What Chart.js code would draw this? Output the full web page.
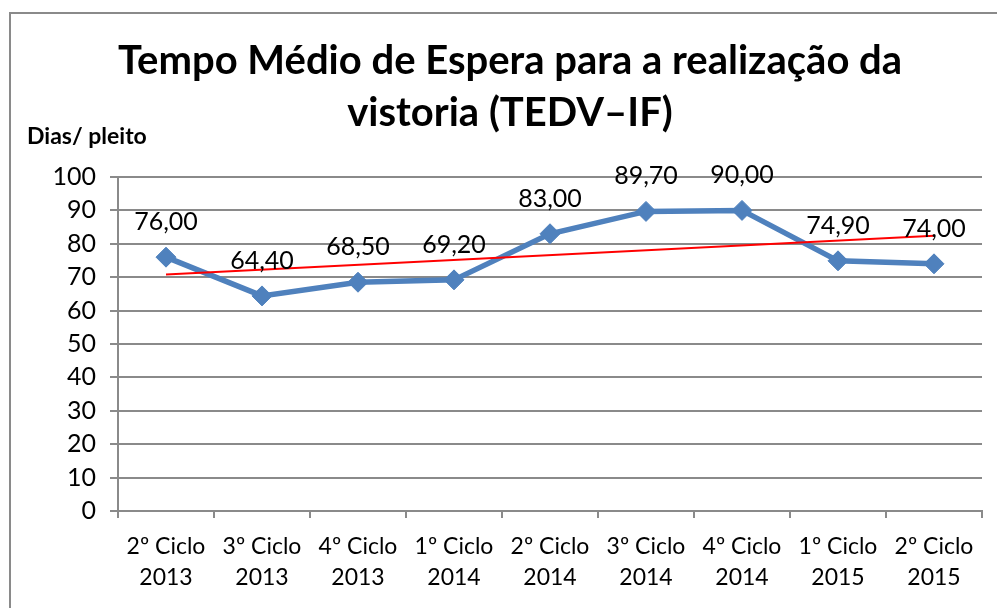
<!DOCTYPE html>
<html><head><meta charset="utf-8">
<script src="https://cdn.jsdelivr.net/npm/chart.js@4"></script>
<style>
html,body{margin:0;padding:0;background:#fff;}
#wrap{position:relative;width:997px;height:608px;overflow:hidden;background:#fff;}
#frame{position:absolute;left:9px;top:12px;width:1100px;height:700px;border:2px solid #8a8a8a;box-sizing:border-box;}
canvas{position:absolute;left:0;top:0;}
</style></head><body>
<div id="wrap"><div id="frame"></div><canvas id="c" width="997" height="608"></canvas></div>
<script>
const titleLines = ["Tempo Médio de Espera para a realização da", "vistoria (TEDV\u2013IF)"];
const yAxisTitle = "Dias/ pleito";
const categories = [
  ["2º Ciclo", "2013"], ["3º Ciclo", "2013"], ["4º Ciclo", "2013"],
  ["1º Ciclo", "2014"], ["2º Ciclo", "2014"], ["3º Ciclo", "2014"],
  ["4º Ciclo", "2014"], ["1º Ciclo", "2015"], ["2º Ciclo", "2015"]
];
const values = [76.00, 64.40, 68.50, 69.20, 83.00, 89.70, 90.00, 74.90, 74.00];
const trendValues = [70.8, null, null, null, null, null, null, null, 82.4];
const yMin = 0, yMax = 100, yStep = 10;

const FONT = "Lato, 'Liberation Sans', sans-serif";

const textPlugin = {
  id: 'texts',
  afterDraw(chart) {
    const ctx = chart.ctx;
    ctx.save();
    ctx.fillStyle = '#000';
    ctx.textAlign = 'center';
    ctx.textBaseline = 'alphabetic';
    ctx.font = "bold 40px " + FONT;
    ctx.fillText(titleLines[0], 510, 74);
    ctx.fillText(titleLines[1], 510, 126);
    ctx.textAlign = 'left';
    ctx.font = "bold 23px " + FONT;
    ctx.fillText(yAxisTitle, 27, 144);
    ctx.textAlign = 'center';
    ctx.font = "25px " + FONT;
    const meta = chart.getDatasetMeta(1);
    meta.data.forEach((pt, i) => {
      const txt = values[i].toFixed(2).replace('.', ',');
      ctx.fillText(txt, pt.x, pt.y - 27);
    });
    ctx.restore();
  }
};

new Chart(document.getElementById('c'), {
  type: 'line',
  data: {
    labels: categories,
    datasets: [
      {
        label: 'Tendência',
        data: trendValues,
        spanGaps: true,
        borderColor: '#FF0000',
        borderWidth: 2,
        pointRadius: 0,
        fill: false,
        tension: 0,
        order: 0
      },
      {
        label: 'TEDV-IF',
        data: values,
        borderColor: '#4F81BD',
        backgroundColor: '#4F81BD',
        borderWidth: 5.5,
        pointStyle: 'rectRot',
        pointRadius: 10,
        pointBorderWidth: 1,
        pointBackgroundColor: '#4F81BD',
        pointBorderColor: '#4F81BD',
        fill: false,
        tension: 0,
        order: 1
      }
    ]
  },
  options: {
    responsive: false,
    animation: false,
    devicePixelRatio: 1,
    layout: { padding: { top: 177, left: 0, right: 15, bottom: 0 } },
    plugins: { legend: { display: false }, tooltip: { enabled: false }, title: { display: false } },
    scales: {
      x: {
        type: 'category',
        offset: true,
        grid: { display: true, drawOnChartArea: false, drawTicks: true, tickLength: 7, color: '#8a8a8a', lineWidth: 2, offset: true },
        border: { display: true, color: '#8a8a8a', width: 2 },
        ticks: { color: '#000', font: { family: FONT, size: 23, lineHeight: 1.36 }, padding: 13, maxRotation: 0, autoSkip: false },
        afterFit(scale) { scale.height = 97; }
      },
      y: {
        min: yMin, max: yMax,
        grid: { color: '#8a8a8a', lineWidth: 2, tickLength: 8, drawTicks: true },
        border: { display: true, color: '#8a8a8a', width: 2 },
        ticks: { stepSize: yStep, color: '#000', font: { family: FONT, size: 25 }, padding: 14 },
        afterFit(scale) { scale.width = 118; }
      }
    }
  },
  plugins: [textPlugin]
});
</script>
</body></html>
